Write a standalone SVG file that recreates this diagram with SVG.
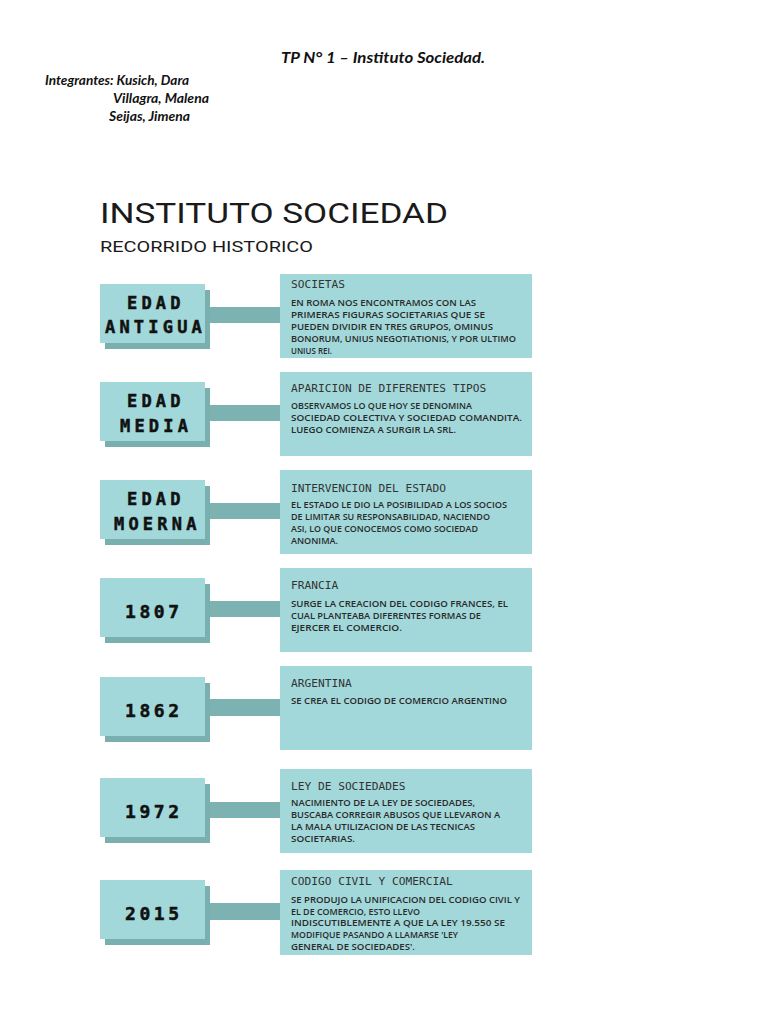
<svg xmlns="http://www.w3.org/2000/svg" width="768" height="1024" viewBox="0 0 768 1024">
<style>
.hdr{font-family:Lato,"Open Sans","Liberation Sans",sans-serif;font-style:italic;font-weight:bold;fill:#111}
.title{font-family:Roboto,"Liberation Sans",sans-serif;fill:#1a1a1a}
.box{fill:#a2d8da}
.shadow{fill:#7aafb0}
.bar{fill:#7db2b3}
.lab{font-family:"DejaVu Sans Mono","Liberation Mono",monospace;font-weight:bold;font-size:17px;letter-spacing:4.2px;fill:#111;stroke:#111;stroke-width:0.5px}
.year{font-family:"DejaVu Sans Mono","Liberation Mono",monospace;font-weight:bold;font-size:18px;letter-spacing:3.6px;fill:#111;stroke:#111;stroke-width:0.5px}
.head{font-family:"DejaVu Sans Mono","Liberation Mono",monospace;font-size:11.2px;fill:#333}
.body{font-family:"Open Sans","DejaVu Sans","Liberation Sans",sans-serif;font-weight:600;font-size:8.4px;fill:#2a2a2a}
</style>
<rect x="0" y="0" width="768" height="1024" fill="#ffffff"/>

<g id="header">
<text class="hdr" x="281" y="63" font-size="15" textLength="204" lengthAdjust="spacingAndGlyphs">TP N° 1 – Instituto Sociedad.</text>
<text class="hdr" x="45" y="85" font-size="13" textLength="144" lengthAdjust="spacingAndGlyphs">Integrantes: Kusich, Dara</text>
<text class="hdr" x="113" y="103" font-size="13" textLength="96" lengthAdjust="spacingAndGlyphs">Villagra, Malena</text>
<text class="hdr" x="109" y="121" font-size="13" textLength="81" lengthAdjust="spacingAndGlyphs">Seijas, Jimena</text>
</g>

<g id="title">
<text class="title" x="100" y="223" font-size="28" textLength="348" lengthAdjust="spacingAndGlyphs">INSTITUTO SOCIEDAD</text>
<text class="title" x="100" y="252" font-size="15" textLength="213" lengthAdjust="spacingAndGlyphs">RECORRIDO HISTORICO</text>
</g>

<g id="connectors">
<rect class="bar" x="205" y="307" width="75" height="16"/>
<rect class="bar" x="205" y="405" width="75" height="16"/>
<rect class="bar" x="205" y="503" width="75" height="16"/>
<rect class="bar" x="205" y="601" width="75" height="16"/>
<rect class="bar" x="205" y="699" width="75" height="17"/>
<rect class="bar" x="205" y="802" width="75" height="16"/>
<rect class="bar" x="205" y="903" width="75" height="17"/>
</g>

<g id="node-edad-antigua">
<rect class="shadow" x="105" y="290" width="105" height="59"/>
<rect class="box" x="100" y="284" width="105" height="59"/>
<text class="lab" x="127" y="309">EDAD</text>
<text class="lab" x="105" y="333">ANTIGUA</text>
</g>
<g id="node-societas">
<rect class="box" x="280" y="274" width="252" height="84"/>
<text class="head" x="291" y="288">SOCIETAS</text>
<text class="body" x="291" y="305.5" textLength="185" lengthAdjust="spacingAndGlyphs">EN ROMA NOS ENCONTRAMOS CON LAS</text>
<text class="body" x="291" y="317.5" textLength="194" lengthAdjust="spacingAndGlyphs">PRIMERAS FIGURAS SOCIETARIAS QUE SE</text>
<text class="body" x="291" y="329.5" textLength="202" lengthAdjust="spacingAndGlyphs">PUEDEN DIVIDIR EN TRES GRUPOS,  OMINUS</text>
<text class="body" x="291" y="341.5" textLength="225" lengthAdjust="spacingAndGlyphs">BONORUM, UNIUS NEGOTIATIONIS, Y POR ULTIMO</text>
<text class="body" x="291" y="353.5" textLength="41" lengthAdjust="spacingAndGlyphs">UNIUS REI.</text>
</g>

<g id="node-edad-media">
<rect class="shadow" x="105" y="388" width="105" height="59"/>
<rect class="box" x="100" y="382" width="105" height="59"/>
<text class="lab" x="127" y="407">EDAD</text>
<text class="lab" x="120" y="432">MEDIA</text>
</g>
<g id="node-aparicion">
<rect class="box" x="280" y="372" width="252" height="84"/>
<text class="head" x="291" y="392">APARICION DE DIFERENTES TIPOS</text>
<text class="body" x="291" y="409" textLength="181" lengthAdjust="spacingAndGlyphs">OBSERVAMOS LO QUE HOY SE DENOMINA</text>
<text class="body" x="291" y="421" textLength="231" lengthAdjust="spacingAndGlyphs">SOCIEDAD COLECTIVA Y SOCIEDAD COMANDITA.</text>
<text class="body" x="291" y="433" textLength="165" lengthAdjust="spacingAndGlyphs">LUEGO COMIENZA A SURGIR LA SRL.</text>
</g>

<g id="node-edad-moerna">
<rect class="shadow" x="105" y="486" width="105" height="59"/>
<rect class="box" x="100" y="480" width="105" height="59"/>
<text class="lab" x="127" y="505">EDAD</text>
<text class="lab" x="114" y="530" letter-spacing="3.6">MOERNA</text>
</g>
<g id="node-intervencion">
<rect class="box" x="280" y="470" width="252" height="84"/>
<text class="head" x="291" y="492">INTERVENCION DEL ESTADO</text>
<text class="body" x="291" y="508" textLength="216" lengthAdjust="spacingAndGlyphs">EL ESTADO LE DIO LA POSIBILIDAD A LOS SOCIOS</text>
<text class="body" x="291" y="520" textLength="199" lengthAdjust="spacingAndGlyphs">DE LIMITAR SU RESPONSABILIDAD, NACIENDO</text>
<text class="body" x="291" y="532" textLength="187" lengthAdjust="spacingAndGlyphs">ASI, LO QUE CONOCEMOS COMO SOCIEDAD</text>
<text class="body" x="291" y="543.5" textLength="47" lengthAdjust="spacingAndGlyphs">ANONIMA.</text>
</g>

<g id="node-1807">
<rect class="shadow" x="105" y="584" width="105" height="59"/>
<rect class="box" x="100" y="578" width="105" height="59"/>
<text class="year" x="125" y="618">1807</text>
</g>
<g id="node-francia">
<rect class="box" x="280" y="568" width="252" height="84"/>
<text class="head" x="291" y="589">FRANCIA</text>
<text class="body" x="291" y="607" textLength="217" lengthAdjust="spacingAndGlyphs">SURGE LA CREACION DEL CODIGO FRANCES, EL</text>
<text class="body" x="291" y="619" textLength="190" lengthAdjust="spacingAndGlyphs">CUAL PLANTEABA DIFERENTES FORMAS DE</text>
<text class="body" x="291" y="631" textLength="111" lengthAdjust="spacingAndGlyphs">EJERCER EL COMERCIO.</text>
</g>

<g id="node-1862">
<rect class="shadow" x="105" y="683" width="105" height="59"/>
<rect class="box" x="100" y="677" width="105" height="59"/>
<text class="year" x="125" y="717">1862</text>
</g>
<g id="node-argentina">
<rect class="box" x="280" y="666" width="252" height="84"/>
<text class="head" x="291" y="687">ARGENTINA</text>
<text class="body" x="291" y="703.5" textLength="216" lengthAdjust="spacingAndGlyphs">SE CREA EL CODIGO DE COMERCIO ARGENTINO</text>
</g>

<g id="node-1972">
<rect class="shadow" x="105" y="784" width="105" height="59"/>
<rect class="box" x="100" y="778" width="105" height="59"/>
<text class="year" x="125" y="818">1972</text>
</g>
<g id="node-ley">
<rect class="box" x="280" y="769" width="252" height="84"/>
<text class="head" x="291" y="790">LEY DE SOCIEDADES</text>
<text class="body" x="291" y="806" textLength="184" lengthAdjust="spacingAndGlyphs">NACIMIENTO DE LA LEY DE SOCIEDADES,</text>
<text class="body" x="291" y="818" textLength="209" lengthAdjust="spacingAndGlyphs">BUSCABA CORREGIR ABUSOS QUE LLEVARON A</text>
<text class="body" x="291" y="830" textLength="184" lengthAdjust="spacingAndGlyphs">LA MALA UTILIZACION DE LAS TECNICAS</text>
<text class="body" x="291" y="841.5" textLength="64" lengthAdjust="spacingAndGlyphs">SOCIETARIAS.</text>
</g>

<g id="node-2015">
<rect class="shadow" x="105" y="886" width="105" height="59"/>
<rect class="box" x="100" y="880" width="105" height="59"/>
<text class="year" x="125" y="920">2015</text>
</g>
<g id="node-codigo">
<rect class="box" x="280" y="870" width="252" height="85"/>
<text class="head" x="291" y="885">CODIGO CIVIL Y COMERCIAL</text>
<text class="body" x="291" y="903" textLength="229" lengthAdjust="spacingAndGlyphs">SE PRODUJO LA UNIFICACION DEL CODIGO CIVIL Y</text>
<text class="body" x="291" y="914.5" textLength="129" lengthAdjust="spacingAndGlyphs">EL DE COMERCIO, ESTO LLEVO</text>
<text class="body" x="291" y="926" textLength="214" lengthAdjust="spacingAndGlyphs">INDISCUTIBLEMENTE A QUE LA LEY 19.550 SE</text>
<text class="body" x="291" y="938" textLength="167" lengthAdjust="spacingAndGlyphs">MODIFIQUE PASANDO A LLAMARSE 'LEY</text>
<text class="body" x="291" y="949.5" textLength="124" lengthAdjust="spacingAndGlyphs">GENERAL DE SOCIEDADES'.</text>
</g>
</svg>
